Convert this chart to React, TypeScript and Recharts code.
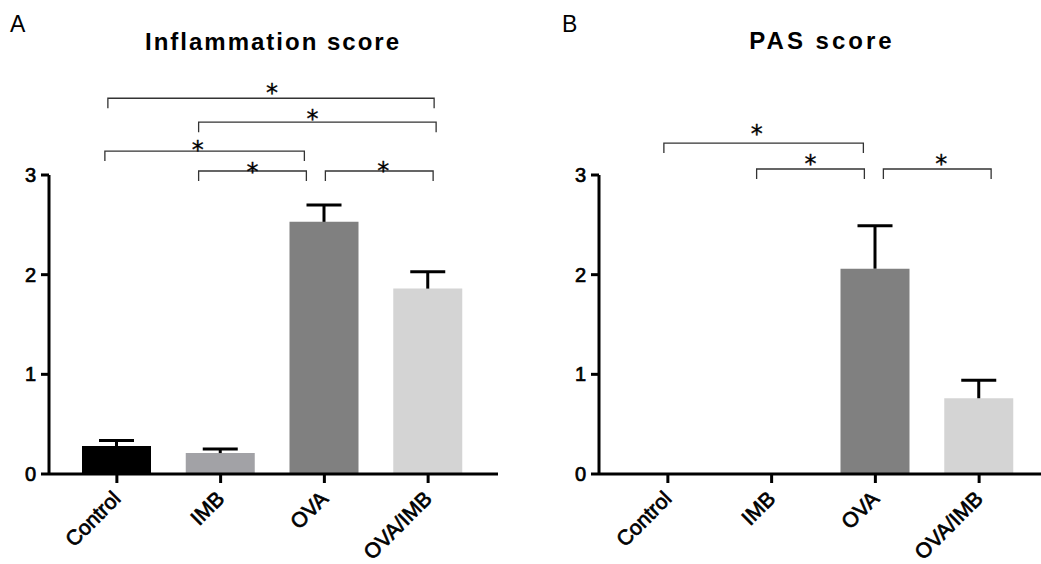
import React from 'react';
import { BarChart, Bar, XAxis, YAxis, Cell, ReferenceLine } from 'recharts';

// groups and values (mean + SEM)
const groups = ['Control', 'IMB', 'OVA', 'OVA/IMB'];
const inflammationMean = [0.28, 0.21, 2.53, 1.86];
const inflammationErr = [0.055, 0.04, 0.17, 0.17];
const pasMean = [0, 0, 2.06, 0.76];
const pasErr = [0, 0, 0.43, 0.18];
const yTicks = [0, 1, 2, 3];

// significance brackets: groups compared and height in score units
const inflammationSig = [
  { from: 'Control', to: 'OVA/IMB', level: 3.77, label: '*' },
  { from: 'IMB', to: 'OVA/IMB', level: 3.53, label: '*' },
  { from: 'Control', to: 'OVA', level: 3.24, label: '*' },
  { from: 'IMB', to: 'OVA', level: 3.04, label: '*' },
  { from: 'OVA', to: 'OVA/IMB', level: 3.04, label: '*' },
];
const pasSig = [
  { from: 'Control', to: 'OVA', level: 3.32, label: '*' },
  { from: 'IMB', to: 'OVA', level: 3.06, label: '*' },
  { from: 'OVA', to: 'OVA/IMB', level: 3.06, label: '*' },
];

// styling only: bar colours and small pixel nudges for the hand-placed brackets
const barColors = ['#000000', '#a2a2a6', '#808080', '#d4d4d4'];
const inflammationNudge = [
  { dx1: -9, dx2: 6, sdx: 1, rise: 10 },
  { dx1: -22, dx2: 8, sdx: -5, rise: 8 },
  { dx1: -12, dx2: -20, sdx: -7, rise: 6 },
  { dx1: -22, dx2: -18, sdx: 0, rise: 4 },
  { dx1: 1, dx2: 5, sdx: 4, rise: 5 },
];
const pasNudge = [
  { dx1: -4, dx2: -12, sdx: -7, rise: 14 },
  { dx1: -15, dx2: -11, sdx: 0, rise: 10 },
  { dx1: 8, dx2: 12, sdx: 4, rise: 10 },
];

const FONT = '"Liberation Sans", Arial, sans-serif';

const buildRows = (mean: number[], err: number[]) =>
  groups.map((name, i) => ({ name, mean: mean[i], err: err[i] }));

const ErrorShape = (props: any) => {
  const { x, y, width, height } = props;
  if (!height || height <= 0) return null;
  const cx = x + width / 2;
  return (
    <g>
      <line x1={cx} x2={cx} y1={y} y2={y + height} stroke="#000" strokeWidth={3} />
      <line x1={cx - 17.5} x2={cx + 17.5} y1={y} y2={y} stroke="#000" strokeWidth={3} />
    </g>
  );
};

const XTick = (props: any) => {
  const { x, y, payload } = props;
  return (
    <g transform={`translate(${x + 5},${y + 15})`}>
      <text
        x={0}
        y={0}
        textAnchor="end"
        transform="rotate(-45)"
        fontSize={21}
        fontFamily={FONT}
        fill="#000"
        stroke="#000"
        strokeWidth={0.7}
      >
        {payload.value}
      </text>
    </g>
  );
};

const bracketShape = (n: { dx1: number; dx2: number; sdx: number; rise: number }, label: string) =>
  (props: any) => {
    const { x1, x2, y1 } = props;
    const a = x1 + n.dx1;
    const b = x2 + n.dx2;
    return (
      <g>
        <path d={`M${a},${y1 + 10}V${y1}H${b}V${y1 + 10}`} fill="none" stroke="#333" strokeWidth={1.3} />
        <text
          x={(a + b) / 2 + n.sdx}
          y={y1 - n.rise + 13}
          textAnchor="middle"
          fontSize={24}
          fontFamily='"DejaVu Sans", sans-serif'
          fill="#000"
          stroke="#000"
          strokeWidth={0.3}
        >
          {label}
        </text>
      </g>
    );
  };

interface PanelProps {
  rows: { name: string; mean: number; err: number }[];
  sig: { from: string; to: string; level: number; label: string }[];
  nudge: { dx1: number; dx2: number; sdx: number; rise: number }[];
  left: number;
  width: number;
  axisWidth: number;
  right: number;
  padding: { left: number; right: number };
}

const Panel: React.FC<PanelProps> = ({ rows, sig, nudge, left, width, axisWidth, right, padding }) => (
  <div style={{ position: 'absolute', left, top: 0 }}>
    <BarChart width={width} height={564} data={rows} margin={{ top: 175, right, bottom: 0, left: 0 }}>
      <XAxis
        dataKey="name"
        height={90}
        padding={padding}
        interval={0}
        tick={<XTick />}
        tickSize={9}
        axisLine={{ stroke: '#000', strokeWidth: 3 }}
        tickLine={{ stroke: '#000', strokeWidth: 3 }}
      />
      <YAxis
        width={axisWidth}
        domain={[0, 3]}
        ticks={yTicks}
        allowDataOverflow
        tickSize={8}
        tickMargin={5}
        axisLine={{ stroke: '#000', strokeWidth: 3 }}
        tickLine={{ stroke: '#000', strokeWidth: 3 }}
        tick={{ fontSize: 20, fontFamily: FONT, fill: '#000', stroke: '#000', strokeWidth: 0.7 }}
      />
      <Bar dataKey="mean" stackId="s" barSize={69} isAnimationActive={false}>
        {rows.map((r, i) => (
          <Cell key={r.name} fill={barColors[i]} />
        ))}
      </Bar>
      <Bar dataKey="err" stackId="s" barSize={69} shape={ErrorShape} isAnimationActive={false} />
      {sig.map((s, i) => (
        <ReferenceLine
          key={i}
          segment={[
            { x: s.from, y: s.level },
            { x: s.to, y: s.level },
          ]}
          ifOverflow="visible"
          shape={bracketShape(nudge[i], s.label)}
        />
      ))}
    </BarChart>
  </div>
);

export default function App() {
  return (
    <div style={{ position: 'absolute', left: 0, top: 0, width: 1041, height: 564, background: '#fff' }}>
      <svg width={1041} height={564} style={{ position: 'absolute', left: 0, top: 0 }}>
        <text x={10} y={32} fontSize={23} fontFamily={FONT} fill="#000">A</text>
        <text x={562} y={32} fontSize={23} fontFamily={FONT} fill="#000">B</text>
        <text x={273} y={50} textAnchor="middle" fontSize={24} fontWeight="bold" letterSpacing={2} fontFamily={FONT} fill="#000">
          Inflammation score
        </text>
        <text x={822} y={49} textAnchor="middle" fontSize={24} fontWeight="bold" letterSpacing={3} fontFamily={FONT} fill="#000">
          PAS score
        </text>
      </svg>
      <Panel
        rows={buildRows(inflammationMean, inflammationErr)}
        sig={inflammationSig}
        nudge={inflammationNudge}
        left={0}
        width={520}
        axisWidth={49}
        right={22}
        padding={{ left: 16, right: 18 }}
      />
      <Panel
        rows={buildRows(pasMean, pasErr)}
        sig={pasSig}
        nudge={pasNudge}
        left={520}
        width={521}
        axisWidth={79}
        right={0}
        padding={{ left: 17, right: 10 }}
      />
    </div>
  );
}
